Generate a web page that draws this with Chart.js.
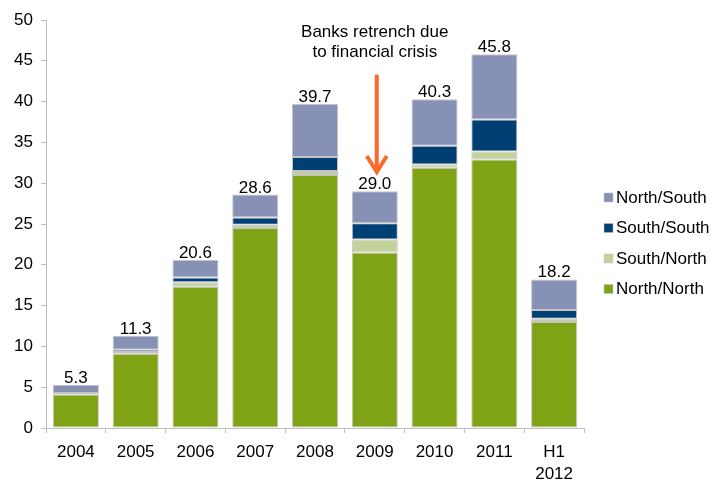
<!DOCTYPE html>
<html>
<head>
<meta charset="utf-8">
<script src="https://cdn.jsdelivr.net/npm/chart.js@4/dist/chart.umd.min.js"></script>
<style>
html,body{margin:0;padding:0;background:#fff;}
#c{display:block;}
</style>
</head>
<body>
<canvas id="c" width="712" height="481"></canvas>
<script>
const categories = ['2004','2005','2006','2007','2008','2009','2010','2011',['H1','2012']];
const northNorth = [4.1, 9.1, 17.3, 24.5, 31.0, 21.5, 31.9, 32.9, 13.0];
const southNorth = [0.2, 0.2, 0.55, 0.4, 0.5, 1.6, 0.4, 1.0, 0.4];
const southSouth = [0.0, 0.3, 0.6, 0.9, 1.7, 2.0, 2.3, 3.9, 1.05];
const northSouth = [1.0, 1.7, 2.15, 2.8, 6.5, 3.9, 5.7, 8.0, 3.75];
const totals = [5.3, 11.3, 20.6, 28.6, 39.7, 29.0, 40.3, 45.8, 18.2];
const yTicks = [0,5,10,15,20,25,30,35,40,45,50];
const annotationLines = ['Banks retrench due', 'to financial crisis'];
const annotationIndex = 5;
const arrowFrom = 43.3;
const arrowTo = 31.0;

const FONT = '"Liberation Sans", Arial, Helvetica, sans-serif';
const BORDER = '#c4c4c4';

function ds(label, data, color) {
  return {label, data, backgroundColor: color, borderColor: BORDER, borderWidth: 1, borderSkipped: false,
    categoryPercentage: 1.0, barPercentage: 0.77};
}

const overlay = {
  id: 'overlay',
  afterDatasetsDraw(chart) {
    const ctx = chart.ctx;
    const x = chart.scales.x, y = chart.scales.y;
    ctx.save();
    ctx.fillStyle = '#000';
    ctx.font = '17px ' + FONT;
    ctx.textAlign = 'center';
    ctx.textBaseline = 'alphabetic';
    totals.forEach((t, i) => {
      ctx.fillText(t.toFixed(1), x.getPixelForValue(i), y.getPixelForValue(t) - 2);
    });
    const cx = x.getPixelForValue(annotationIndex);
    annotationLines.forEach((line, k) => {
      ctx.fillText(line, cx, 37 + k * 19.5);
    });
    const ax = cx + 2;
    const y0 = y.getPixelForValue(arrowFrom);
    const y1 = y.getPixelForValue(arrowTo);
    ctx.strokeStyle = '#fb6a2c';
    ctx.lineWidth = 4;
    ctx.lineCap = 'butt';
    ctx.beginPath();
    ctx.moveTo(ax, y0);
    ctx.lineTo(ax, y1 - 3);
    ctx.stroke();
    ctx.lineJoin = 'miter';
    ctx.beginPath();
    ctx.moveTo(ax - 10, y1 - 19);
    ctx.lineTo(ax, y1 - 3);
    ctx.lineTo(ax + 10, y1 - 19);
    ctx.stroke();
    const items = chart.data.datasets.slice().reverse();
    ctx.textAlign = 'left';
    ctx.textBaseline = 'middle';
    items.forEach((d, k) => {
      const cy = 197 + k * 30.5;
      ctx.fillStyle = d.backgroundColor;
      ctx.fillRect(604, cy - 4, 9, 9);
      ctx.strokeStyle = BORDER;
      ctx.lineWidth = 0.5;
      ctx.strokeRect(604, cy - 4, 9, 9);
      ctx.fillStyle = '#000';
      ctx.fillText(d.label, 616, cy + 1);
    });
    ctx.restore();
  }
};

new Chart(document.getElementById('c'), {
  type: 'bar',
  data: {
    labels: categories,
    datasets: [
      ds('North/North', northNorth, '#80a316'),
      ds('South/North', southNorth, '#c3d29b'),
      ds('South/South', southSouth, '#003f74'),
      ds('North/South', northSouth, '#8790b5')
    ]
  },
  options: {
    responsive: false,
    devicePixelRatio: 1,
    animation: false,
    layout: {padding: {top: 20, right: 128, left: 0, bottom: 0}},
    plugins: {legend: {display: false}, tooltip: {enabled: false}},
    scales: {
      x: {
        stacked: true,
        grid: {display: true, drawOnChartArea: false, offset: true, color: '#bfbfbf', tickLength: 5, lineWidth: 1},
        border: {display: true, color: '#bfbfbf', width: 1},
        ticks: {color: '#000', font: {family: FONT, size: 17, lineHeight: 1.3}, padding: 8, maxRotation: 0, autoSkip: false},
        afterFit(s) { s.height = 53; }
      },
      y: {
        stacked: true,
        min: 0, max: 50,
        afterBuildTicks(s) { s.ticks = yTicks.map(v => ({value: v})); },
        grid: {display: true, drawOnChartArea: false, color: '#bfbfbf', tickLength: 5},
        border: {display: true, color: '#bfbfbf', width: 1},
        ticks: {color: '#000', font: {family: FONT, size: 17}, padding: 8},
        afterFit(s) { s.width = 46; }
      }
    }
  },
  plugins: [overlay]
});
</script>
</body>
</html>
